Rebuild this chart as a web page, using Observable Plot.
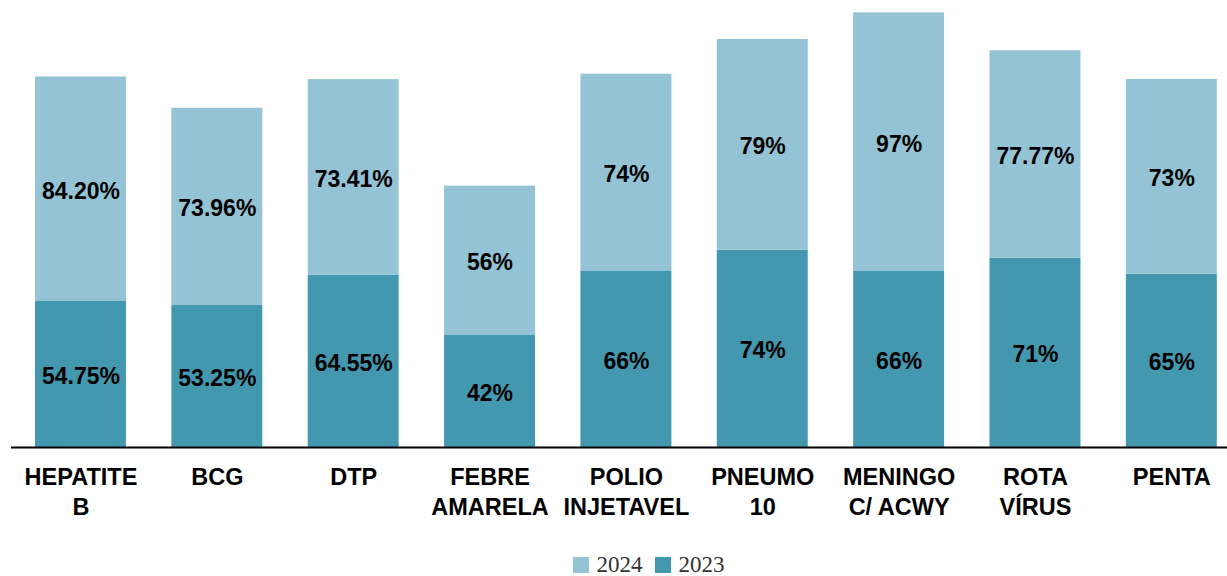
<!DOCTYPE html>
<html>
<head>
<meta charset="utf-8">
<script src="https://cdn.jsdelivr.net/npm/d3@7"></script>
<script src="https://cdn.jsdelivr.net/npm/@observablehq/plot@0.6"></script>
<style>
  body { margin: 0; background: #fff; }
  #legend { display: flex; justify-content: center; align-items: center; height: 30px; padding-left: 70px;
    font-family: "Liberation Serif", "DejaVu Serif", serif; font-size: 23px; color: #333; }
  .item { display: flex; align-items: center; margin: 0 6px; }
  .sw { width: 16px; height: 16px; margin-right: 8px; display: inline-block; }
</style>
</head>
<body>
<div id="chart"></div>
<div id="legend"></div>
<script>
const categories = ["HEPATITE B", "BCG", "DTP", "FEBRE AMARELA", "POLIO INJETAVEL", "PNEUMO 10", "MENINGO C/ ACWY", "ROTA VÍRUS", "PENTA"];
const tickLabels = ["HEPATITE\nB", "BCG", "DTP", "FEBRE\nAMARELA", "POLIO\nINJETAVEL", "PNEUMO\n10", "MENINGO\nC/ ACWY", "ROTA\nVÍRUS", "PENTA"];
const values2023 = [54.75, 53.25, 64.55, 42, 66, 74, 66, 71, 65];
const values2024 = [84.20, 73.96, 73.41, 56, 74, 79, 97, 77.77, 73];
const labels2023 = ["54.75%", "53.25%", "64.55%", "42%", "66%", "74%", "66%", "71%", "65%"];
const labels2024 = ["84.20%", "73.96%", "73.41%", "56%", "74%", "79%", "97%", "77.77%", "73%"];
const years = ["2024", "2023"];
const colors = {"2024": "#93c3d4", "2023": "#4398b0"};

const rows = [];
categories.forEach((c, i) => rows.push({cat: c, year: "2023", value: values2023[i], label: labels2023[i]}));
categories.forEach((c, i) => rows.push({cat: c, year: "2024", value: values2024[i], label: labels2024[i]}));
const tickMap = new Map(categories.map((c, i) => [c, tickLabels[i]]));

const chart = Plot.plot({
  width: 1227,
  height: 550,
  marginLeft: 11,
  marginRight: 0,
  marginTop: 7,
  marginBottom: 103,
  style: {fontFamily: "'Liberation Sans', Arial, sans-serif", background: "#fff"},
  x: {domain: categories, range: [12.3, 1239.5], paddingInner: 0.333, paddingOuter: 0.1665, round: false, label: null},
  y: {domain: [0, 165], axis: null},
  color: {domain: ["2023", "2024"], range: [colors["2023"], colors["2024"]]},
  marks: [
    Plot.barY(rows, {x: "cat", y: "value", fill: "year", z: "year"}),
    Plot.text(rows, Plot.stackY({x: "cat", y: "value", z: "year", text: "label",
      fontSize: 23, fontWeight: "bold", fill: "#000", dy: 2})),
    Plot.ruleY([0], {stroke: "#000", strokeWidth: 2}),
    Plot.axisX({tickSize: 0, tickPadding: 16, fontSize: 23.5, fontWeight: "bold", lineHeight: 1.28,
      tickFormat: d => tickMap.get(d), fill: "#000", label: null})
  ]
});
document.getElementById("chart").appendChild(chart);

const legend = document.getElementById("legend");
years.forEach(y => {
  const it = document.createElement("span");
  it.className = "item";
  it.innerHTML = `<span class="sw" style="background:${colors[y]}"></span>${y}`;
  legend.appendChild(it);
});
</script>
</body>
</html>
